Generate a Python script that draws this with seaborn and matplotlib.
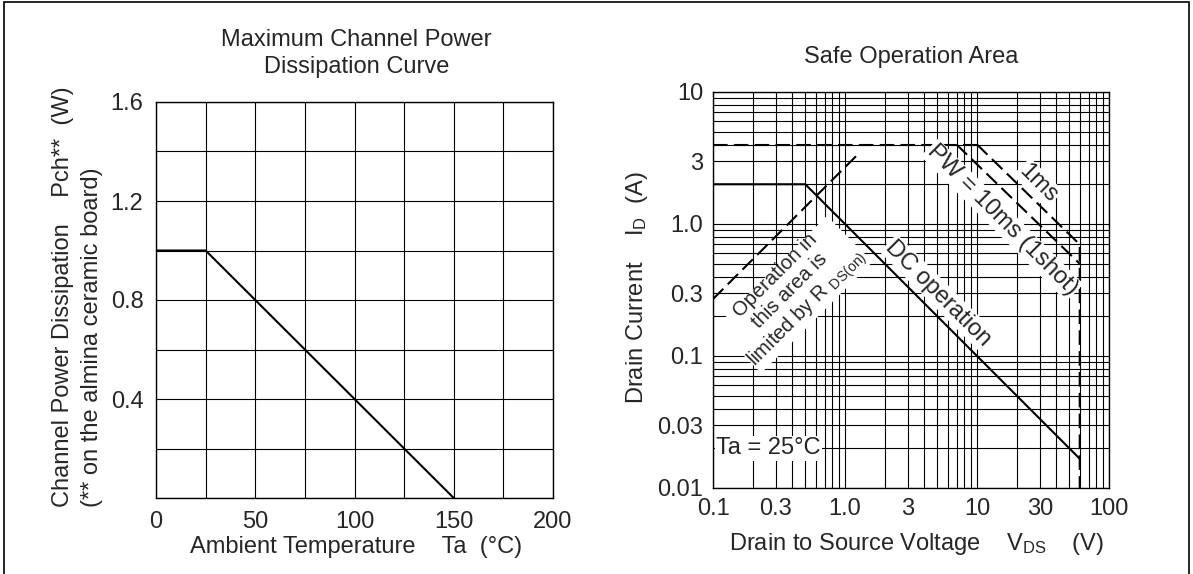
import numpy as np
import pandas as pd
import seaborn as sns
import matplotlib.pyplot as plt
from matplotlib.ticker import LogLocator, NullFormatter, FixedLocator
from matplotlib.patches import Rectangle

# power derating curve
temp = [0, 25, 150]
pch = [1.0, 1.0, 0.0]

# safe operating area
dc_v = [0.1, 0.5, 60]
dc_i = [2.0, 2.0, 1 / 60]
rds_v = [0.1, 1.3]
rds_i = [0.27, 3.5]
peak_v = [0.1, 10]
peak_i = [4.0, 4.0]
pw10_v = [7, 60]
pw10_i = [4.0, 0.5]
pw1_v = [10, 60, 60]
pw1_i = [4.0, 0.7, 0.01]

left_xticks = [0, 50, 100, 150, 200]
left_yticks = [0.4, 0.8, 1.2, 1.6]
soa_xticks = [0.1, 0.3, 1, 3, 10, 30, 100]
soa_xlabels = ['0.1', '0.3', '1.0', '3', '10', '30', '100']
soa_yticks = [0.01, 0.03, 0.1, 0.3, 1, 3, 10]
soa_ylabels = ['0.01', '0.03', '0.1', '0.3', '1.0', '3', '10']

sns.set_style('white')
plt.rcParams['font.family'] = ['Liberation Sans', 'DejaVu Sans']
plt.rcParams['mathtext.fontset'] = 'custom'
plt.rcParams['mathtext.rm'] = 'Liberation Sans'
plt.rcParams['mathtext.it'] = 'Liberation Sans'

fig = plt.figure(figsize=(11.93, 5.74), dpi=100)
W, H = 1193, 574
ax1 = fig.add_axes([156 / W, (H - 498) / H, 397 / W, 396 / H])
ax2 = fig.add_axes([713 / W, (H - 488) / H, 396 / W, 396 / H])

# figure frame (left, top, right)
fig.patches.append(Rectangle((0.003, -0.05), 0.994, 1.047, transform=fig.transFigure,
                             fill=False, edgecolor='black', lw=1.2))

lw = 1.5
dash = (0, (7, 3))
fs = 17

#### left: derating ####
df_d = pd.DataFrame({'temp': temp, 'pch': pch})
sns.lineplot(data=df_d, x='temp', y='pch', sort=False, estimator=None,
             color='black', lw=lw, ax=ax1)
ax1.set_xlim(0, 200)
ax1.set_ylim(0, 1.6)
ax1.xaxis.set_major_locator(FixedLocator(left_xticks))
ax1.xaxis.set_minor_locator(FixedLocator(np.arange(0, 201, 25)))
ax1.yaxis.set_major_locator(FixedLocator(left_yticks))
ax1.yaxis.set_minor_locator(FixedLocator(np.arange(0, 1.61, 0.2)))
ax1.grid(which='both', color='black', lw=0.8)
ax1.tick_params(which='both', length=0, labelsize=fs, pad=9)
ax1.set_xlabel('Ambient Temperature    Ta  (°C)', fontsize=fs)
ax1.set_ylabel('Channel Power Dissipation    Pch**  (W)\n(** on the almina ceramic board)',
               fontsize=fs, multialignment='left', linespacing=1.45)
ax1.xaxis.set_label_coords(0.505, -0.096)
ax1.yaxis.set_label_coords(-0.133, 0.508)
ax1.text(0.505, 1.122, 'Maximum Channel Power\nDissipation Curve', transform=ax1.transAxes,
         ha='center', va='center', fontsize=fs, linespacing=1.3)

#### right: safe operating area ####
segs = [(dc_v, dc_i, '-'), (rds_v, rds_i, dash), (peak_v, peak_i, dash),
        (pw10_v, pw10_i, dash), (pw1_v, pw1_i, dash)]
for xs, ys, ls in segs:
    sns.lineplot(x=xs, y=ys, sort=False, estimator=None, color='black',
                 lw=lw, linestyle=ls, ax=ax2)
ax2.set_xscale('log')
ax2.set_yscale('log')
ax2.set_xlim(0.1, 100)
ax2.set_ylim(0.01, 10)
ax2.xaxis.set_major_locator(FixedLocator(soa_xticks))
ax2.set_xticklabels(soa_xlabels)
ax2.yaxis.set_major_locator(FixedLocator(soa_yticks))
ax2.set_yticklabels(soa_ylabels)
for axis in (ax2.xaxis, ax2.yaxis):
    axis.set_minor_locator(LogLocator(base=10, subs=np.arange(1, 10)))
    axis.set_minor_formatter(NullFormatter())
ax2.grid(which='both', color='black', lw=0.8)
ax2.tick_params(which='both', length=0, labelsize=fs, pad=7)
ax2.set_xlabel('Drain to Source Voltage    V$_{\\mathregular{DS}}$    (V)', fontsize=fs)
ax2.set_ylabel('Drain Current    I$_{\\mathregular{D}}$  (A)', fontsize=fs)
ax2.xaxis.set_label_coords(0.513, -0.108)
ax2.yaxis.set_label_coords(-0.16, 0.505)
ax2.text(0.5, 1.088, 'Safe Operation Area', transform=ax2.transAxes,
         ha='center', va='center', fontsize=fs)

box = dict(facecolor='white', edgecolor='none', pad=1)
ax2.text(0.106, 0.02, 'Ta = 25°C', ha='left', va='center', fontsize=fs, bbox=box)
ax2.text(5.1, 0.30, 'DC operation', ha='center', va='center', rotation=-45,
         fontsize=fs, bbox=box)
ax2.text(15.5, 1.07, 'PW = 10ms (1shot)', ha='center', va='center', rotation=-45,
         fontsize=fs, bbox=box)
ax2.text(29, 2.04, '1ms', ha='center', va='center', rotation=-45,
         fontsize=fs, bbox=box)
ax2.text(0.4, 0.3, 'Operation in\nthis area is\nlimited by R $_{\\mathregular{DS(on)}}$',
         ha='center', va='center', rotation=45, fontsize=14.5, linespacing=1.15,
         multialignment='center', bbox=dict(facecolor='white', edgecolor='none', pad=0.3),
         zorder=1.8)

for ax in (ax1, ax2):
    for s in ax.spines.values():
        s.set_color('black')
        s.set_linewidth(1.0)

fig.savefig('out.png', dpi=100)
